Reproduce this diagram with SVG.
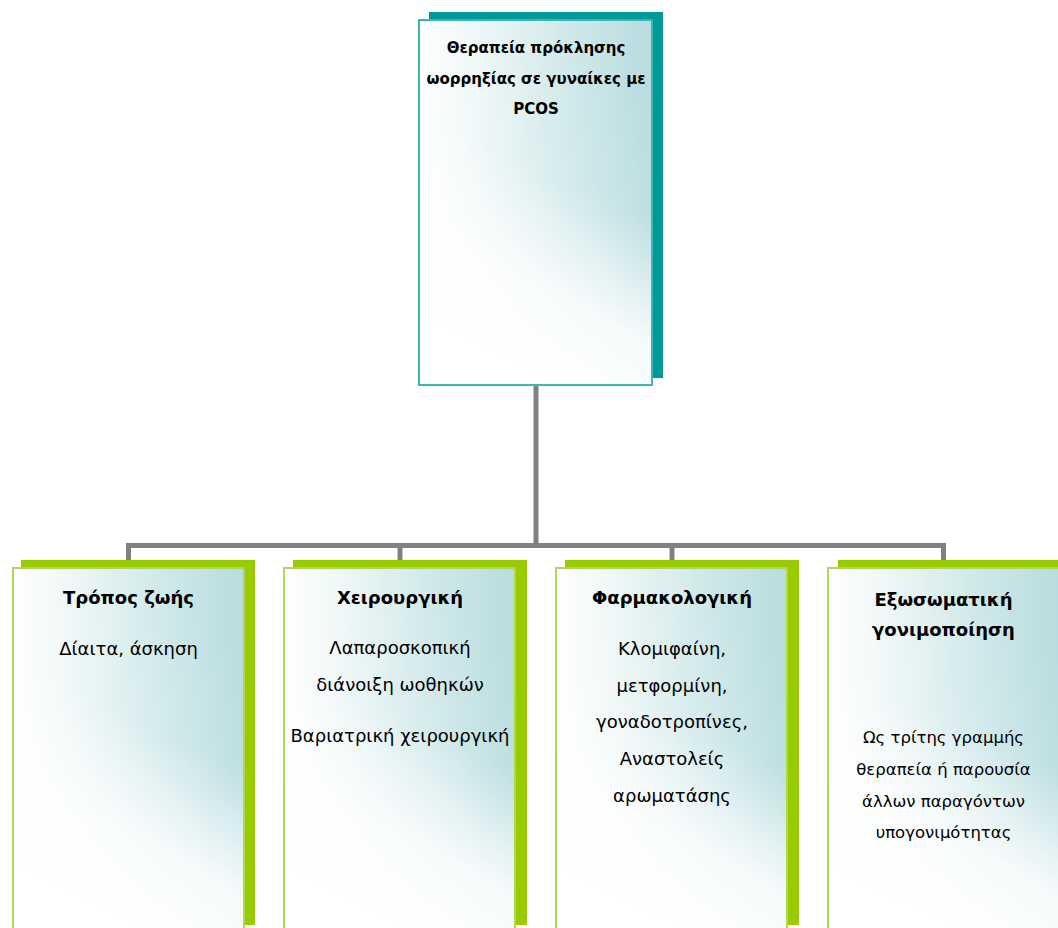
<svg xmlns="http://www.w3.org/2000/svg" width="1058" height="928" viewBox="0 0 1058 928">
  <style>
    .shadow-top { fill: #009999; }
    .shadow-leaf { fill: #99cc00; }
    .box-top { stroke: #3db5b3; stroke-width: 2; }
    .box-leaf { stroke: #add65a; stroke-width: 2; }
    .conn { fill: none; stroke: #808080; stroke-width: 5; stroke-linejoin: miter; }
    text { font-family: "DejaVu Sans", Verdana, sans-serif; fill: #000; text-anchor: middle; }
    .t-head { font-size: 15px; font-weight: bold; }
    .t-title { font-size: 18px; font-weight: bold; }
    .t-body { font-size: 18px; }
    .t-small { font-size: 16.5px; }
  </style>
  <defs>
    <!-- base tint: white on the left, pale teal on the right -->
    <linearGradient id="tint" x1="0" y1="0" x2="1" y2="0">
      <stop offset="0" stop-color="#ffffff"/>
      <stop offset="0.2" stop-color="#f3f9f9"/>
      <stop offset="0.6" stop-color="#d3eaeb"/>
      <stop offset="1" stop-color="#b7dcdf"/>
    </linearGradient>
    <!-- white fade towards the lower part of each box -->
    <linearGradient id="fade" x1="0.7" y1="0.1" x2="0.45" y2="0.95">
      <stop offset="0" stop-color="#ffffff" stop-opacity="0"/>
      <stop offset="0.4" stop-color="#ffffff" stop-opacity="0.1"/>
      <stop offset="0.75" stop-color="#ffffff" stop-opacity="0.85"/>
      <stop offset="1" stop-color="#ffffff" stop-opacity="1"/>
    </linearGradient>
  </defs>

  <!-- connectors -->
  <g id="connectors">
    <path class="conn" d="M536,386 V545.5"/>
    <path class="conn" d="M128.5,560 V545.5 H943.5 V560"/>
    <path class="conn" d="M400,545.5 V560"/>
    <path class="conn" d="M672,545.5 V560"/>
  </g>

  <!-- root node -->
  <g id="node-root">
    <rect class="shadow-top" x="429" y="12" width="234" height="366"/>
    <rect x="418" y="19" width="235" height="367" fill="url(#tint)"/>
    <rect x="418" y="19" width="235" height="367" fill="url(#fade)"/>
    <rect class="box-top" x="419" y="20" width="233" height="365" fill="none"/>
    <text class="t-head" x="536" y="53">Θεραπεία πρόκλησης</text>
    <text class="t-head" x="536" y="84">ωορρηξίας σε γυναίκες με</text>
    <text class="t-head" x="536" y="114">PCOS</text>
  </g>

  <!-- lifestyle -->
  <g id="node-lifestyle">
    <rect class="shadow-leaf" x="21" y="560" width="234" height="365"/>
    <rect x="12" y="567" width="233" height="370" fill="url(#tint)"/>
    <rect x="12" y="567" width="233" height="370" fill="url(#fade)"/>
    <rect class="box-leaf" x="13" y="568" width="231" height="368" fill="none"/>
    <text class="t-title" x="128.5" y="604">Τρόπος ζωής</text>
    <text class="t-body" x="128.5" y="655">Δίαιτα, άσκηση</text>
  </g>

  <!-- surgical -->
  <g id="node-surgical">
    <rect class="shadow-leaf" x="293" y="560" width="234" height="365"/>
    <rect x="283" y="567" width="233" height="370" fill="url(#tint)"/>
    <rect x="283" y="567" width="233" height="370" fill="url(#fade)"/>
    <rect class="box-leaf" x="284" y="568" width="231" height="368" fill="none"/>
    <text class="t-title" x="400" y="604">Χειρουργική</text>
    <text class="t-body" x="400" y="654">Λαπαροσκοπική</text>
    <text class="t-body" x="400" y="691">διάνοιξη ωοθηκών</text>
    <text class="t-body" x="400" y="742">Βαριατρική χειρουργική</text>
  </g>

  <!-- pharmacological -->
  <g id="node-pharma">
    <rect class="shadow-leaf" x="565" y="560" width="234" height="365"/>
    <rect x="555" y="567" width="233" height="370" fill="url(#tint)"/>
    <rect x="555" y="567" width="233" height="370" fill="url(#fade)"/>
    <rect class="box-leaf" x="556" y="568" width="231" height="368" fill="none"/>
    <text class="t-title" x="672" y="604">Φαρμακολογική</text>
    <text class="t-body" x="672" y="655">Κλομιφαίνη,</text>
    <text class="t-body" x="672" y="692">μετφορμίνη,</text>
    <text class="t-body" x="672" y="728">γοναδοτροπίνες,</text>
    <text class="t-body" x="672" y="765">Αναστολείς</text>
    <text class="t-body" x="672" y="802">αρωματάσης</text>
  </g>

  <!-- IVF -->
  <g id="node-ivf">
    <rect class="shadow-leaf" x="838" y="560" width="234" height="365"/>
    <rect x="827" y="567" width="233" height="370" fill="url(#tint)"/>
    <rect x="827" y="567" width="233" height="370" fill="url(#fade)"/>
    <rect class="box-leaf" x="828" y="568" width="231" height="368" fill="none"/>
    <text class="t-title" x="943.5" y="606">Εξωσωματική</text>
    <text class="t-title" x="943.5" y="636">γονιμοποίηση</text>
    <text class="t-small" x="943.5" y="743">Ως τρίτης γραμμής</text>
    <text class="t-small" x="943.5" y="775">θεραπεία ή παρουσία</text>
    <text class="t-small" x="943.5" y="807">άλλων παραγόντων</text>
    <text class="t-small" x="943.5" y="838">υπογονιμότητας</text>
  </g>
</svg>
